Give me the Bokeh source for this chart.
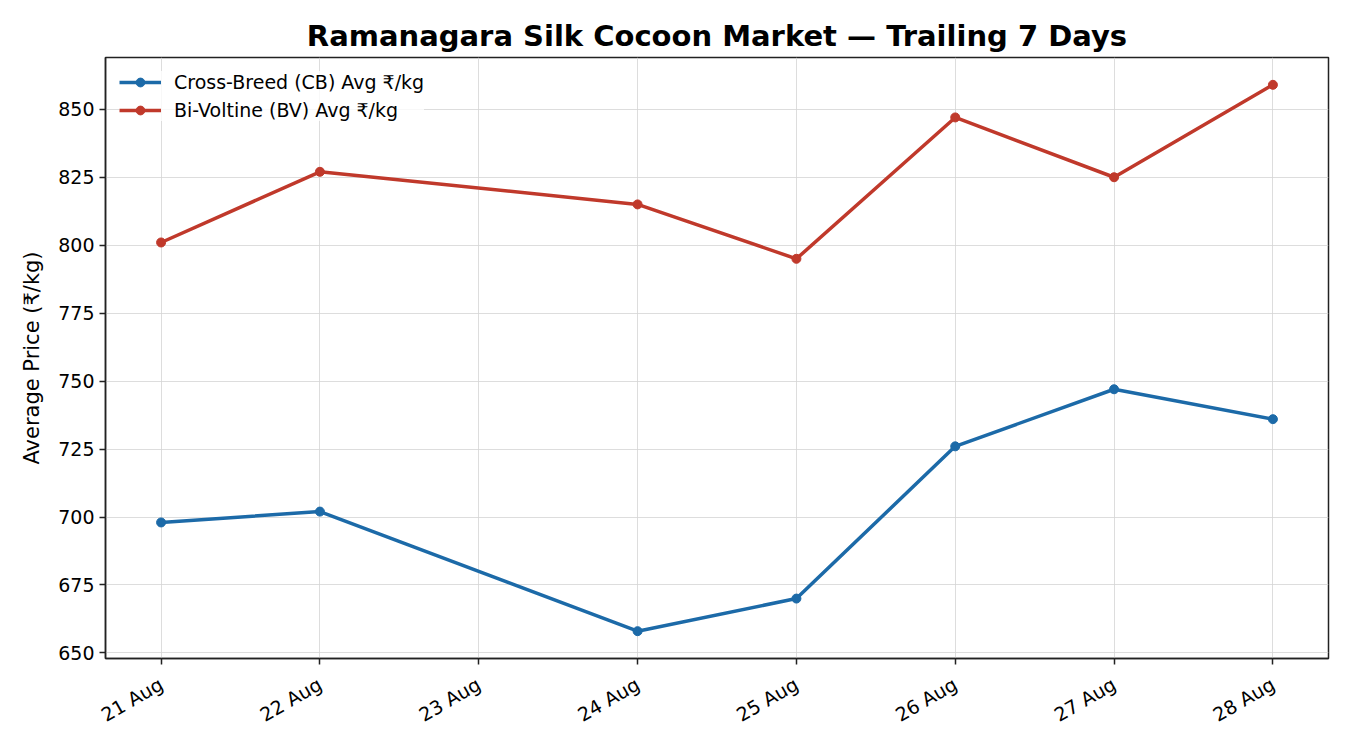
import math
from bokeh.plotting import figure
from bokeh.models import FixedTicker, ColumnDataSource
from bokeh.embed import file_html
from bokeh.resources import INLINE

# trailing 7 days (23 Aug had no market)
all_days = ["21 Aug", "22 Aug", "23 Aug", "24 Aug", "25 Aug", "26 Aug", "27 Aug", "28 Aug"]
trade_days = ["21 Aug", "22 Aug", "24 Aug", "25 Aug", "26 Aug", "27 Aug", "28 Aug"]
cb_avg = [698, 702, 658, 670, 726, 747, 736]
bv_avg = [801, 827, 815, 795, 847, 825, 859]
y_ticks = [650, 675, 700, 725, 750, 775, 800, 825, 850]

FONT = "DejaVu Sans"
BLUE = "#1c6aa8"
RED = "#c0392b"

x_pos = [all_days.index(d) for d in trade_days]
src = ColumnDataSource(data=dict(x=x_pos, cb=cb_avg, bv=bv_avg))

p = figure(width=1334, height=734, frame_width=1223, frame_height=601,
           x_range=(-0.35, 7.35), y_range=(647.95, 869.05),
           output_backend="svg", toolbar_location=None, tools="",
           min_border_left=105, min_border_right=6, min_border_top=57, min_border_bottom=76)

p.title.text = "Ramanagara Silk Cocoon Market \u2014 Trailing 7 Days"
p.title.align = "center"
p.title.text_font = FONT
p.title.text_font_size = "29px"
p.title.text_font_style = "bold"
p.title.text_color = "black"

p.line("x", "cb", source=src, line_color=BLUE, line_width=3.5, legend_label="Cross-Breed (CB) Avg \u20b9/kg")
p.scatter("x", "cb", source=src, size=9, fill_color=BLUE, line_color=BLUE, legend_label="Cross-Breed (CB) Avg \u20b9/kg")
p.line("x", "bv", source=src, line_color=RED, line_width=3.5, legend_label="Bi-Voltine (BV) Avg \u20b9/kg")
p.scatter("x", "bv", source=src, size=9, fill_color=RED, line_color=RED, legend_label="Bi-Voltine (BV) Avg \u20b9/kg")

p.xaxis.ticker = FixedTicker(ticks=list(range(len(all_days))))
p.xaxis.major_label_overrides = {i: d for i, d in enumerate(all_days)}
p.xaxis.major_label_orientation = math.pi / 6
p.xaxis.major_label_standoff = 18
p.yaxis.ticker = FixedTicker(ticks=y_ticks)
p.yaxis.axis_label = "Average Price (\u20b9/kg)"
p.yaxis.axis_label_standoff = 11

for ax in (p.xaxis, p.yaxis):
    ax.major_label_text_font = FONT
    ax.major_label_text_font_size = "19px"
    ax.major_label_text_color = "black"
    ax.axis_label_text_font = FONT
    ax.axis_label_text_font_size = "21px"
    ax.axis_label_text_font_style = "normal"
    ax.axis_label_text_color = "black"
    ax.axis_line_color = "#222222"
    ax.axis_line_width = 1.5
    ax.major_tick_line_color = "#222222"
    ax.major_tick_line_width = 1.5
    ax.major_tick_in = 0
    ax.major_tick_out = 6
    ax.minor_tick_line_color = None

p.xgrid.grid_line_color = "#d4d4d4"
p.ygrid.grid_line_color = "#d4d4d4"
p.xgrid.grid_line_alpha = 0.8
p.ygrid.grid_line_alpha = 0.8

p.outline_line_color = "#222222"
p.outline_line_width = 1.5

p.legend.location = "top_left"
p.legend.border_line_color = None
p.legend.background_fill_alpha = 0.8
p.legend.label_text_font = FONT
p.legend.label_text_font_size = "19px"
p.legend.label_text_color = "black"
p.legend.glyph_width = 42
p.legend.glyph_height = 22
p.legend.label_height = 22
p.legend.label_standoff = 13
p.legend.spacing = 6
p.legend.margin = 14
p.legend.padding = 9

open("out.html", "w").write(file_html(p, INLINE))
